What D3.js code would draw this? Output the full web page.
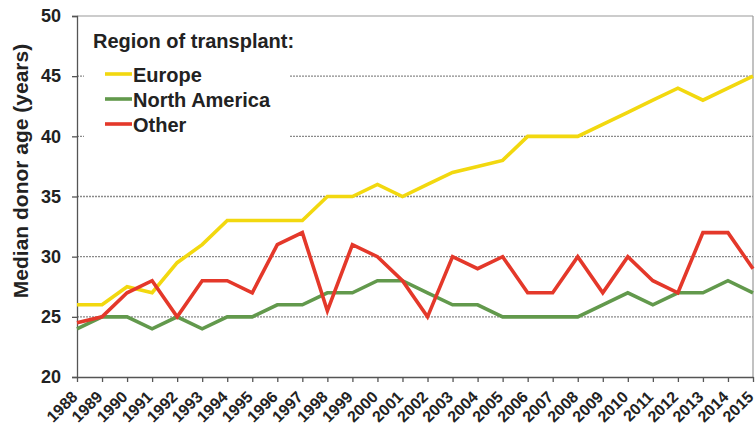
<!DOCTYPE html>
<html lang="en">
	<head>
		<meta charset="UTF-8">
		<title>Median donor age</title>
		<script src="https://cdnjs.cloudflare.com/ajax/libs/d3/7.8.5/d3.min.js"></script>
		<style>
			body {margin: 0; background: #fff;}
			svg text {font-family: "Liberation Sans", Arial, sans-serif; font-weight: bold; fill: #222;}
		</style>
		<script>
var years = d3.range(1988, 2016);
var europe = [26, 26, 27.5, 27, 29.5, 31, 33, 33, 33, 33, 35, 35, 36, 35, 36, 37, 37.5, 38, 40, 40, 40, 41, 42, 43, 44, 43, 44, 45];
var northAmerica = [24, 25, 25, 24, 25, 24, 25, 25, 26, 26, 27, 27, 28, 28, 27, 26, 26, 25, 25, 25, 25, 26, 27, 26, 27, 27, 28, 27];
var other = [24.5, 25, 27, 28, 25, 28, 28, 27, 31, 32, 25.5, 31, 30, 28, 25, 30, 29, 30, 27, 27, 30, 27, 30, 28, 27, 32, 32, 29];
var yTicks = [20, 25, 30, 35, 40, 45, 50];
var seriesNames = ["Europe", "North America", "Other"];
var seriesColors = ["#f2d80f", "#62994c", "#e4382a"];

function makeChart() {
	var svg = d3.select("#chart").attr("width", 755).attr("height", 429);
	var left = 77, right = 753, top = 16, bottom = 377;

	var x = d3.scaleLinear().domain([1988, 2015]).range([left, right]);
	var y = d3.scaleLinear().domain([20, 50]).range([bottom, top]);

	// dashed grid
	svg.append("g").selectAll("line")
		.data([25, 30, 35, 40, 45])
		.join("line")
		.attr("x1", left).attr("x2", right)
		.attr("y1", function(d) {return y(d);}).attr("y2", function(d) {return y(d);})
		.attr("stroke", "#8a8a8a").attr("stroke-width", 1.3).attr("stroke-dasharray", "2,1");

	// frame top and right
	svg.append("line").attr("x1", left).attr("x2", right).attr("y1", top).attr("y2", top)
		.attr("stroke", "#999").attr("stroke-width", 1.2);
	svg.append("line").attr("x1", right).attr("x2", right).attr("y1", top).attr("y2", bottom)
		.attr("stroke", "#999").attr("stroke-width", 1.2);

	// legend background hides grid
	svg.append("rect").attr("x", 84).attr("y", 22).attr("width", 206).attr("height", 128).attr("fill", "#fff");

	var yAxis = svg.append("g").attr("transform", "translate(" + left + ",0)")
		.call(d3.axisLeft(y).tickValues(yTicks).tickSize(5).tickPadding(11));
	yAxis.selectAll("text").attr("font-size", 18).style("font-family", "'Liberation Sans', Arial, sans-serif").style("font-weight", "bold").attr("fill", "#222");
	yAxis.selectAll("line, path").attr("stroke", "#555").attr("stroke-width", 1.3);

	var xAxis = svg.append("g").attr("transform", "translate(0," + bottom + ")")
		.call(d3.axisBottom(x).tickValues(years).tickFormat(d3.format("d")).tickSize(5).tickSizeOuter(0));
	xAxis.selectAll("line, path").attr("stroke", "#555").attr("stroke-width", 1.3);
	xAxis.selectAll("text")
		.attr("font-size", 16).style("font-family", "'Liberation Sans', Arial, sans-serif").style("font-weight", "bold").attr("fill", "#222")
		.attr("text-anchor", "end").attr("dy", null).attr("y", 0)
		.attr("transform", "translate(1,21) rotate(-45)");

	svg.append("text")
		.attr("transform", "translate(28,171) rotate(-90)")
		.attr("text-anchor", "middle").attr("font-size", 21)
		.text("Median donor age (years)");

	var line = d3.line()
		.x(function(d, i) {return x(years[i]);})
		.y(function(d) {return y(d);});

	[europe, northAmerica, other].forEach(function(s, k) {
		svg.append("path").datum(s)
			.attr("d", line)
			.attr("fill", "none")
			.attr("stroke", seriesColors[k]).attr("stroke-width", 3.6)
			.attr("stroke-linejoin", "miter");
	});

	// legend
	svg.append("text").attr("x", 93).attr("y", 48).attr("font-size", 20).text("Region of transplant:");
	var item = svg.append("g").selectAll("g").data(seriesNames).join("g")
		.attr("transform", function(d, i) {return "translate(105," + (74 + i*25) + ")";});
	item.append("line").attr("x1", 0).attr("x2", 27).attr("y1", 0).attr("y2", 0)
		.attr("stroke", function(d, i) {return seriesColors[i];}).attr("stroke-width", 3.6);
	item.append("text").attr("x", 28).attr("y", 8).attr("font-size", 20).text(function(d) {return d;});
}
		</script>
	</head>
	<body onload="makeChart()">
		<svg id="chart"></svg>
	</body>
</html>
